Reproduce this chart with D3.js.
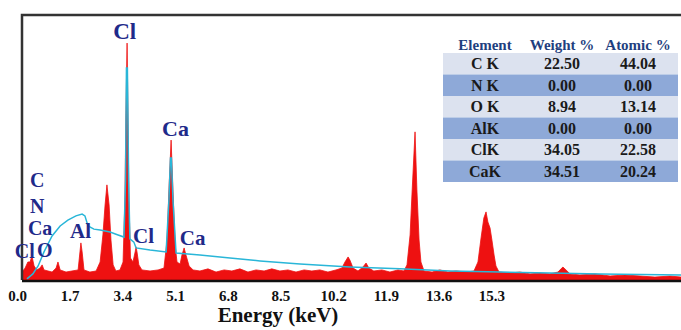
<!DOCTYPE html>
<html>
<head>
<meta charset="utf-8">
<script src="https://cdn.jsdelivr.net/npm/d3@7"></script>
<style>
  body { margin: 0; background: #fff; }
  svg { display: block; }
  svg text { font-family: "Liberation Serif", "Times New Roman", serif; font-weight: bold; }
</style>
</head>
<body>
<div id="chart"></div>
<script>
// Spectrum outline (energy keV, counts)
const specEnergy = [0.00,0.10,0.19,0.26,0.32,0.39,0.48,0.58,0.65,0.71,0.84,0.97,1.10,1.16,1.23,1.42,1.61,1.81,1.87,1.90,1.94,2.00,2.19,2.39,2.52,2.61,2.68,2.74,2.81,2.87,2.94,3.03,3.16,3.26,3.32,3.35,3.39,3.42,3.45,3.50,3.58,3.65,3.68,3.71,3.77,3.87,4.13,4.39,4.58,4.68,4.74,4.81,4.87,4.94,5.00,5.10,5.16,5.23,5.29,5.39,5.52,5.74,6.00,6.26,6.52,6.77,7.03,7.29,7.55,7.81,8.06,8.32,8.58,8.84,9.10,9.35,9.61,9.87,10.13,10.32,10.42,10.52,10.58,10.68,10.84,11.00,11.10,11.19,11.35,11.61,11.87,12.13,12.32,12.42,12.52,12.58,12.68,12.74,12.81,12.87,12.97,13.23,13.48,13.74,14.00,14.32,14.58,14.71,14.81,14.90,14.97,15.03,15.10,15.16,15.23,15.29,15.39,15.74,16.06,16.39,16.71,17.03,17.29,17.39,17.45,17.55,17.68,18.00,18.48,18.97,19.45,19.94,20.42,20.90,21.26];
const specCounts = [30,45,68,68,91,53,38,45,57,38,34,30,45,68,38,30,34,38,106,140,106,38,30,34,68,170,283,359,283,151,57,34,38,68,302,604,894,604,302,83,68,106,125,106,57,38,34,38,45,151,340,528,340,132,68,60,94,121,94,53,38,34,42,30,38,34,42,30,38,34,42,34,38,30,38,34,38,30,38,45,68,87,75,45,34,49,64,45,34,38,30,38,34,57,170,321,559,340,151,68,34,30,38,30,34,30,34,68,159,234,257,219,196,151,94,53,30,26,30,23,26,23,30,42,49,38,23,19,23,15,19,15,11,15,11];

// Fitted background line (cyan)
const fitEnergy = [0.16,0.35,0.52,0.71,0.97,1.23,1.48,1.74,1.94,2.03,2.13,2.32,2.52,2.84,3.10,3.29,3.34,3.37,3.40,3.44,3.48,3.61,3.68,4.13,4.65,4.74,4.79,4.82,4.87,4.97,5.74,6.71,7.68,8.97,10.58,12.19,13.81,15.42,17.03,18.65,21.26];
const fitCounts = [4,23,53,106,166,204,226,242,249,242,204,192,189,181,170,162,377,800,800,377,155,143,121,113,106,302,460,460,302,102,94,83,72,60,49,42,34,30,26,23,19];

const tickValues = [0.0,1.7,3.4,5.1,6.8,8.5,10.2,11.9,13.6,15.3];

// Peak labels: text, energy, counts at baseline
const peakNames = ["Cl","Ca","Cl","Ca","Al","C","N","Ca","Cl","O"];
const peakEnergy = [2.94,4.52,3.58,5.09,1.55,0.26,0.26,0.19,-0.23,0.48];
const peakCounts = [910,545,140,132,158,352,253,170,83,87];
const peakSize = [23,22,21,21,21,20,20,20,20,20];

// Table
const tableHeader = ["Element","Weight %","Atomic %"];
const elements = ["C K","N K","O K","AlK","ClK","CaK"];
const weightPct = ["22.50","0.00","8.94","0.00","34.05","34.51"];
const atomicPct = ["44.04","0.00","13.14","0.00","22.58","20.24"];

const W = 681, H = 330;
const plot = {left: 22, top: 15, right: 681, bottom: 280};

const svg = d3.select("#chart").append("svg")
    .attr("width", W)
    .attr("height", H);

const x = d3.scaleLinear().domain([0, 21.26]).range([plot.left, plot.right]);
const y = d3.scaleLinear().domain([0, 1000]).range([plot.bottom, plot.top]);

const spec = specEnergy.map((e, i) => [e, specCounts[i]]);
const fit = fitEnergy.map((e, i) => [e, fitCounts[i]]);

// red spectrum
svg.append("path")
    .datum(spec)
    .attr("fill", "#ee1111")
    .attr("stroke", "#ee1111")
    .attr("stroke-width", 0.8)
    .attr("d", d3.area().x(d => x(d[0])).y0(y(0)).y1(d => y(d[1])));

// cyan fit
svg.append("path")
    .datum(fit)
    .attr("fill", "none")
    .attr("stroke", "#29b6d8")
    .attr("stroke-width", 1.5)
    .attr("d", d3.line().x(d => x(d[0])).y(d => y(d[1])));

// frame
svg.append("path")
    .attr("d", `M${plot.right},${plot.top}H${plot.left}V${plot.bottom}`)
    .attr("fill", "none")
    .attr("stroke", "#333")
    .attr("stroke-width", 2.5);
svg.append("line")
    .attr("x1", plot.left).attr("x2", plot.right)
    .attr("y1", plot.bottom + 1).attr("y2", plot.bottom + 1)
    .attr("stroke", "#111")
    .attr("stroke-width", 2.5);

// x axis labels
const xAxis = svg.append("g")
    .attr("transform", `translate(0,${plot.bottom})`)
    .call(d3.axisBottom(x).tickValues(tickValues).tickFormat(d3.format(".1f")).tickSize(0).tickPadding(0))
    .attr("font-family", null)
    .attr("font-size", null);
xAxis.select(".domain").remove();
xAxis.selectAll("text")
    .attr("dx", "-5")
    .attr("y", 21)
    .attr("dy", 0)
    .style("font-size", "15px")
    .attr("fill", "#111");

svg.append("text")
    .attr("x", 278)
    .attr("y", 322)
    .attr("text-anchor", "middle")
    .style("font-size", "21px")
    .attr("fill", "#111")
    .text("Energy (keV)");

// peak labels
svg.selectAll(".peak")
    .data(peakNames)
    .enter()
    .append("text")
    .attr("class", "peak")
    .attr("x", (d, i) => x(peakEnergy[i]))
    .attr("y", (d, i) => y(peakCounts[i]))
    .style("font-size", (d, i) => peakSize[i] + "px")
    .attr("fill", "#1f2a8a")
    .text(d => d);

// table
const tbl = svg.append("g");
const colX = [485, 562, 638];
const rowH = 21.5, rowTop = 53;
tbl.selectAll(".hd")
    .data(tableHeader)
    .enter()
    .append("text")
    .attr("x", (d, i) => colX[i])
    .attr("y", 50)
    .attr("text-anchor", "middle")
    .style("font-size", "15px")
    .attr("fill", "#1f3f7f")
    .text(d => d);

tbl.selectAll(".row")
    .data(elements)
    .enter()
    .append("rect")
    .attr("x", 443)
    .attr("y", (d, i) => rowTop + i * rowH)
    .attr("width", 235)
    .attr("height", rowH)
    .attr("fill", (d, i) => i % 2 === 0 ? "#dce2ef" : "#8ea9d8");

const cols = [elements, weightPct, atomicPct];
cols.forEach((col, c) => {
  tbl.selectAll(".c" + c)
      .data(col)
      .enter()
      .append("text")
      .attr("x", colX[c])
      .attr("y", (d, i) => rowTop + i * rowH + 16)
      .attr("text-anchor", "middle")
      .style("font-size", "16px")
      .attr("fill", "#1a1a1a")
      .text(d => d);
});
</script>
</body>
</html>
